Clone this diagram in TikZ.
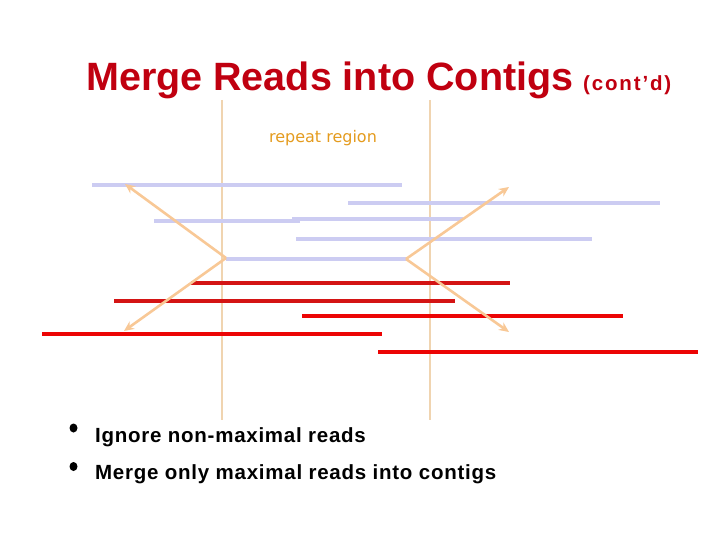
\documentclass[tikz,border=0pt]{standalone}
\usepackage{fontspec}
\setmainfont{Liberation Sans}
\newfontfamily\labelfont{DejaVu Sans}
\usetikzlibrary{arrows.meta}
\definecolor{titlered}{RGB}{192,0,16}
\definecolor{readblue}{RGB}{204,204,242}
\definecolor{darkread}{RGB}{212,20,20}
\definecolor{brightread}{RGB}{236,4,4}
\definecolor{guide}{RGB}{240,212,176}
\definecolor{arrowpeach}{RGB}{248,200,150}
\definecolor{labelorange}{RGB}{228,155,30}
\tikzset{
  blueread/.style={readblue, line width=4pt},
  redreadA/.style={darkread, line width=4pt},
  redreadB/.style={brightread, line width=4pt},
  guideline/.style={guide, line width=1.1pt},
  peacharrow/.style={arrowpeach, line width=2.6pt, -{Stealth[length=10pt,width=9pt]}},
  bullettext/.style={anchor=base west, inner sep=0pt, font=\fontsize{20.5}{24}\bfseries\addfontfeature{LetterSpace=3.6}},
  bulletdot/.style={ellipse, fill=black, inner sep=0pt, minimum width=8pt, minimum height=9pt}
}
\usetikzlibrary{shapes.geometric}
\begin{document}
\begin{tikzpicture}[x=1pt, y=-1pt]
\useasboundingbox (0,0) rectangle (720,540);
% title
\node[anchor=base west, inner sep=0pt, text=titlered, font=\fontsize{39.5}{44}\bfseries] (title) at (86,91) {Merge Reads into Contigs};
\node[anchor=base west, inner sep=0pt, text=titlered, font=\fontsize{20.5}{24}\bfseries\addfontfeature{LetterSpace=9}] (cont) at (583,91) {(cont’d)};
% repeat region guides
\coordinate (g1t) at (222,100); \coordinate (g1b) at (222,420);
\coordinate (g2t) at (430,100); \coordinate (g2b) at (430,420);
\draw[guideline] (g1t) -- (g1b);
\draw[guideline] (g2t) -- (g2b);
\node[text=labelorange, font=\labelfont\fontsize{16}{19}\selectfont, inner sep=0pt] (rr) at (323,138) {repeat region};
% blue reads
\coordinate (b1a) at (92,185.5);  \coordinate (b1b) at (402,185.5);
\coordinate (b2a) at (348,203.5); \coordinate (b2b) at (660,203.5);
\coordinate (b3a) at (154,221);   \coordinate (b3b) at (300,221);
\coordinate (b4a) at (292,219.5); \coordinate (b4b) at (463,219.5);
\coordinate (b5a) at (296,239);   \coordinate (b5b) at (592,239);
\coordinate (b6a) at (226,258.5); \coordinate (b6b) at (406,258.5);
\draw[blueread] (b1a) -- (b1b);
\draw[blueread] (b2a) -- (b2b);
\draw[blueread] (b3a) -- (b3b);
\draw[blueread] (b4a) -- (b4b);
\draw[blueread] (b5a) -- (b5b);
\draw[blueread] (b6a) -- (b6b);
% red reads
\coordinate (r1a) at (191,282.5); \coordinate (r1b) at (510,282.5);
\coordinate (r2a) at (114,300.5); \coordinate (r2b) at (455,300.5);
\coordinate (r3a) at (302,315.5); \coordinate (r3b) at (623,315.5);
\coordinate (r4a) at (42,333.5);  \coordinate (r4b) at (382,333.5);
\coordinate (r5a) at (378,351.5); \coordinate (r5b) at (698,351.5);
\draw[redreadA] (r1a) -- (r1b);
\draw[redreadA] (r2a) -- (r2b);
\draw[redreadB] (r3a) -- (r3b);
\draw[redreadB] (r4a) -- (r4b);
\draw[redreadB] (r5a) -- (r5b);
% arrows
\coordinate (lv) at (226,258);
\coordinate (lu) at (125,184);
\coordinate (ld) at (124,331);
\coordinate (rv) at (406,259);
\coordinate (ru) at (509,187);
\coordinate (rd) at (509,332);
\draw[peacharrow] (lv) -- (lu);
\draw[peacharrow] (lv) -- (ld);
\draw[peacharrow] (rv) -- (ru);
\draw[peacharrow] (rv) -- (rd);
% bullets
\node[bulletdot] (d1) at (73.5,428) {};
\node[bulletdot] (d2) at (73.5,466.5) {};
\node[bullettext] (t1) at (95,442) {Ignore non-maximal reads};
\node[bullettext] (t2) at (95,479) {Merge only maximal reads into contigs};
\end{tikzpicture}
\end{document}
